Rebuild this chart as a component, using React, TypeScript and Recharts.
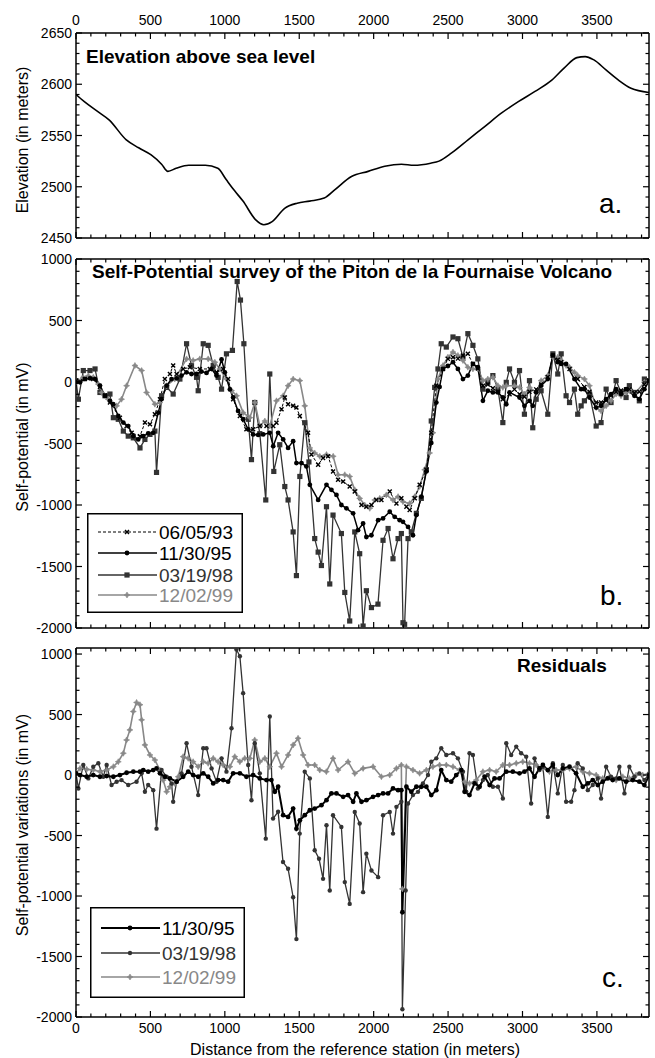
import React from 'react';
import { LineChart, Line, XAxis, YAxis, Legend } from 'recharts';

const FONT = '"Liberation Sans", Arial, Helvetica, sans-serif';

// ---------- Panel a: elevation ----------
const ELEV_DIST = [0,56,140,224,336,421,505,575,617,673,757,869,953,1009,1066,1122,1206,1262,1318,1402,1486,1570,1668,1738,1851,1963,2075,2187,2271,2383,2439,2524,2636,2748,2860,2972,3084,3197,3281,3365,3421,3477,3561,3645,3729,3850];
const ELEV_M = [2590,2583,2574,2565,2546,2538,2531,2522,2515,2518,2521,2521,2518,2507,2496,2486,2468,2463,2466,2479,2484,2486,2489,2497,2510,2515,2520,2522,2521,2523,2525,2533,2546,2559,2572,2583,2593,2604,2616,2626,2627,2624,2614,2604,2596,2592];

// ---------- Panel b: self-potential ----------
const SP93_DIST = [0,60,116,161,195,228,295,340,374,430,463,497,530,564,597,631,653,676,720,765,832,899,944,989,1022,1056,1101,1145,1190,1235,1280,1325,1347,1381,1403,1425,1459,1481,1504,1559,1582,1627,1660,1694,1727,1761,1795,1839,1873,1918,1951,1985,2018,2052,2108,2153,2186,2220,2242,2276,2309,2354,2387,2421,2466,2499,2533,2566,2600,2633,2667,2700,2734,2767,2801,2835,2868,2913,2946,2980,3013,3047,3092,3125,3170,3204,3237,3260,3316,3371,3416,3450,3495,3528,3562,3595,3629,3662,3696,3718,3752,3785,3819,3852];
const SP93_MV = [11,24,24,-40,-110,-167,-290,-358,-413,-440,-330,-344,-262,-140,24,65,134,65,106,120,106,106,79,106,24,-140,-276,-385,-385,-358,-358,-358,-331,-222,-126,-180,-194,-208,-276,-413,-590,-672,-618,-604,-727,-795,-809,-850,-891,-1000,-1014,-1000,-959,-959,-891,-987,-946,-1014,-1041,-946,-836,-713,-413,-30,106,188,202,190,216,229,147,110,-30,-20,-50,-80,-140,-100,-60,-100,-120,-80,-60,-20,40,216,180,160,106,24,-40,-80,-167,-167,-150,-110,-80,-70,-60,-60,-90,-80,-20,11];

const SP95_DIST = [0,27,60,94,128,161,195,228,250,284,318,351,385,418,452,485,519,553,575,609,642,676,709,743,776,810,843,877,911,944,978,1000,1034,1056,1089,1123,1157,1190,1224,1258,1302,1325,1358,1392,1425,1459,1481,1515,1548,1571,1627,1683,1716,1750,1783,1817,1862,1895,1929,1951,1985,2030,2063,2108,2141,2175,2197,2231,2264,2287,2320,2354,2387,2421,2443,2466,2499,2533,2566,2600,2633,2667,2700,2734,2767,2801,2835,2868,2891,2913,2980,3013,3047,3069,3092,3125,3170,3204,3237,3260,3293,3349,3394,3416,3450,3495,3528,3562,3595,3629,3662,3696,3752,3785,3819,3852];
const SP95_MV = [-3,-3,24,30,24,-30,-112,-153,-181,-276,-330,-358,-440,-467,-440,-418,-413,-249,-140,-30,24,30,52,79,65,65,85,74,106,52,183,79,-60,-126,-235,-303,-385,-426,-430,-426,-413,-522,-413,-467,-536,-481,-659,-659,-686,-836,-959,-836,-877,-918,-1000,-1027,-1068,-1205,-1150,-1260,-1246,-1123,-1109,-1055,-1096,-1123,-1137,-1178,-1246,-1082,-932,-727,-495,-167,-40,106,130,161,106,24,52,147,120,-153,-71,-85,-85,-126,-181,-85,-126,-194,-153,-194,-85,-30,24,216,161,147,147,24,-58,-58,-126,-208,-194,-140,-98,-58,-98,-58,-112,-140,-58,11];

const SP98_DIST = [0,16,49,94,128,161,195,228,251,284,318,351,385,430,463,497,530,541,575,609,653,698,743,776,810,821,855,888,922,955,978,1011,1051,1083,1105,1128,1157,1179,1201,1235,1275,1302,1329,1369,1403,1425,1459,1481,1504,1537,1565,1604,1627,1649,1683,1705,1727,1783,1806,1839,1873,1906,1929,1951,1985,2029,2063,2097,2130,2164,2186,2197,2208,2231,2253,2287,2320,2354,2387,2410,2432,2454,2488,2533,2566,2600,2633,2667,2700,2734,2767,2801,2835,2868,2891,2913,2946,2980,3013,3047,3069,3092,3125,3170,3204,3237,3260,3293,3316,3349,3371,3394,3416,3450,3495,3528,3562,3595,3629,3662,3696,3718,3752,3785,3819,3852];
const SP98_MV = [11,-140,93,93,106,-85,-112,-98,-290,-303,-399,-440,-454,-536,-467,-426,-399,-735,-112,-44,-98,24,311,134,38,-71,311,298,134,38,-58,229,257,817,666,311,-303,-631,-167,-420,-959,65,-727,-510,-850,-959,-1219,-1574,-768,-331,-650,-1273,-1383,-1492,-1014,-1642,-1082,-1232,-1711,-1943,-1219,-1396,-1984,-1697,-1834,-1806,-1287,-1191,-1437,-1273,-1232,-1957,-1970,-1273,-1219,-1068,-946,-713,-317,-44,106,311,284,366,352,202,393,298,188,-58,-3,52,-58,-330,-3,106,-3,93,-262,11,-372,-140,-71,-262,229,65,229,-112,-167,-58,-262,-194,-153,-98,-358,-330,-58,-167,11,-85,-126,-30,-85,-153,24,11];

const SP99_DIST = [0,49,83,116,150,172,217,273,306,340,396,441,474,530,564,609,664,743,787,832,888,933,966,1011,1045,1079,1123,1168,1202,1235,1269,1302,1347,1392,1425,1459,1504,1537,1571,1604,1638,1683,1728,1761,1806,1839,1873,1906,1940,1974,2007,2041,2085,2130,2164,2197,2242,2276,2309,2343,2376,2398,2432,2466,2499,2533,2566,2600,2633,2667,2700,2734,2767,2801,2835,2868,2891,2946,2980,3013,3047,3092,3125,3170,3204,3237,3260,3293,3316,3349,3371,3416,3450,3495,3528,3562,3595,3629,3662,3696,3718,3752,3819,3852];
const SP99_MV = [0,38,50,38,-17,-85,-140,-194,-140,-30,134,93,-85,-180,-167,-30,24,188,175,188,188,161,106,24,-70,-112,-249,-290,-167,-358,-317,-358,-153,-112,-30,24,11,-194,-536,-577,-604,-590,-604,-754,-754,-768,-877,-946,-1000,-1027,-959,-946,-918,-959,-932,-973,-987,-932,-850,-713,-577,-413,24,134,202,243,216,175,120,106,106,11,24,38,-30,-44,-30,-30,-44,-98,-44,-85,11,52,202,202,175,134,120,79,52,24,-30,-208,-235,-194,-153,-98,-112,-85,-71,-98,-3,11];

// ---------- Panel c: residuals ----------
const RES95_DIST = [0,27,72,116,161,206,251,295,340,385,430,452,485,519,541,564,597,631,676,720,754,787,821,855,888,922,955,989,1022,1056,1101,1145,1190,1235,1280,1313,1336,1358,1392,1425,1459,1481,1504,1537,1571,1604,1649,1683,1716,1750,1795,1828,1862,1884,1918,1951,1996,2030,2063,2097,2130,2164,2186,2193,2220,2253,2287,2320,2354,2387,2421,2454,2488,2521,2555,2589,2611,2644,2678,2712,2745,2779,2812,2846,2891,2935,2980,3013,3047,3081,3114,3137,3170,3204,3237,3271,3316,3360,3405,3439,3472,3506,3539,3573,3606,3651,3696,3741,3785,3819,3852];
const RES95_MV = [14,0,-14,0,-14,-8,-14,0,19,28,28,41,28,41,55,14,-14,-28,-55,-14,28,0,-14,14,-14,-69,-42,-42,-55,14,14,-14,0,-28,-42,-42,-138,-97,-332,-346,-277,-443,-374,-332,-291,-277,-249,-208,-152,-152,-180,-166,-221,-152,-221,-208,-180,-166,-152,-152,-111,-125,-125,-1134,-97,-138,-97,-97,-97,-166,-125,41,-42,-55,0,41,-138,-166,-69,-97,-14,-83,-28,-28,28,28,14,28,55,-14,55,83,41,83,0,55,69,14,-97,-69,-42,-83,-55,-28,-42,-28,-55,-42,-55,-83,0];

const RES98_DIST = [0,16,49,83,116,150,183,206,239,273,306,351,407,441,463,485,519,541,575,609,642,653,676,709,743,776,821,855,877,911,944,978,1011,1045,1078,1101,1123,1157,1179,1201,1235,1275,1302,1324,1358,1391,1425,1459,1481,1503,1537,1571,1604,1633,1660,1683,1705,1727,1783,1806,1839,1873,1906,1929,1951,1985,2030,2063,2108,2130,2153,2186,2193,2215,2231,2264,2298,2331,2365,2387,2421,2454,2488,2533,2566,2600,2622,2644,2667,2700,2734,2767,2801,2835,2868,2891,2924,2958,2991,3025,3058,3081,3114,3137,3170,3204,3237,3271,3293,3327,3349,3371,3405,3439,3472,3506,3528,3562,3595,3629,3651,3685,3718,3752,3785,3819,3852];
const RES98_MV = [14,-111,83,-28,69,97,-14,83,-83,-55,-42,-83,-55,14,-138,-83,-125,-443,41,-14,-69,-221,-55,14,263,69,-166,221,221,55,-55,138,28,387,1037,982,677,83,-208,263,14,-526,484,-360,-304,-719,-775,-1010,-1356,-484,28,-28,-622,-692,-858,-415,-955,-332,-429,-885,-1065,-305,-401,-968,-650,-789,-844,-332,-305,-484,-263,-221,-1936,-955,-235,-166,-139,-69,0,110,138,221,166,180,138,28,-138,180,166,-111,-42,0,-97,-97,-194,263,166,235,180,152,-235,138,41,69,-346,97,-152,83,-221,-221,-125,97,55,-125,-83,-28,-194,69,-14,-28,69,-152,69,-14,14,-42,14];

const RES99_DIST = [0,27,72,116,161,206,251,284,318,340,362,385,407,430,441,463,497,530,564,586,609,631,664,687,720,754,787,821,855,888,922,955,989,1034,1067,1101,1134,1168,1201,1235,1269,1302,1347,1381,1425,1459,1492,1526,1559,1604,1638,1682,1727,1761,1828,1873,1929,1996,2052,2108,2153,2186,2193,2220,2264,2309,2354,2398,2443,2488,2533,2577,2611,2644,2689,2734,2779,2823,2868,2913,2958,3002,3047,3092,3137,3181,3226,3271,3316,3360,3405,3450,3495,3539,3584,3629,3674,3718,3763,3808,3852];
const RES99_MV = [14,55,47,41,28,41,69,110,180,290,373,525,600,581,456,249,166,124,41,-42,-138,-97,-69,-14,152,138,110,69,110,97,138,110,83,69,152,110,138,138,290,110,138,69,180,69,166,249,304,166,83,83,41,28,138,41,110,13,55,69,-14,0,55,83,-941,69,41,14,41,69,83,83,69,41,-55,-69,-42,28,41,28,83,83,97,110,97,83,55,28,41,41,55,69,28,14,0,-28,-14,-42,-14,-28,0,0,14];

// ---------- Ticks & labels ----------
const X_DOMAIN = [0, 3850];
const X_TICKS = Array.from({ length: 39 }, (_, i) => i * 100);
const ELEV_TICKS = Array.from({ length: 21 }, (_, i) => 2450 + i * 10);
const SP_TICKS = Array.from({ length: 31 }, (_, i) => -2000 + i * 100);
const RES_TICKS = Array.from({ length: 31 }, (_, i) => -2000 + i * 100);
const SP_LEGEND = ['06/05/93', '11/30/95', '03/19/98', '12/02/99'];
const RES_LEGEND = ['11/30/95', '03/19/98', '12/02/99'];

const rows = (d: number[], v: number[]) => d.map((x, i) => ({ d: x, v: v[i] }));

// ---------- Markers ----------
type Kind = 'x' | 'circle' | 'square' | 'star' | 'none';
function Marker({ kind, cx, cy, color, size }: { kind: Kind; cx: number; cy: number; color: string; size: number }) {
  if (cx == null || cy == null || isNaN(cx) || isNaN(cy)) return null;
  const s = size;
  if (kind === 'x')
    return <path d={`M${cx - s},${cy - s}L${cx + s},${cy + s}M${cx - s},${cy + s}L${cx + s},${cy - s}`} stroke={color} strokeWidth={1.4} fill="none" />;
  if (kind === 'circle') return <circle cx={cx} cy={cy} r={s} fill={color} />;
  if (kind === 'square') return <rect x={cx - s} y={cy - s} width={2 * s} height={2 * s} fill={color} />;
  if (kind === 'star') {
    const a = s * 0.35;
    return (
      <path
        d={`M${cx},${cy - s}L${cx + a},${cy - a}L${cx + s},${cy}L${cx + a},${cy + a}L${cx},${cy + s}L${cx - a},${cy + a}L${cx - s},${cy}L${cx - a},${cy - a}Z`}
        fill={color}
        stroke={color}
        strokeWidth={0.6}
      />
    );
  }
  return null;
}
const dotFn = (kind: Kind, color: string, size: number) => (p: any) => (
  <Marker key={`m${p.index}`} kind={kind} cx={p.cx} cy={p.cy} color={color} size={size} />
);

// ---------- Ticks ----------
const xTick = (side: 'top' | 'bottom', labels: boolean) => (p: any) => {
  const v = p.payload.value;
  const major = v % 500 === 0;
  const len = major ? 6 : 3.5;
  const s = side === 'top' ? 1 : -1;
  return (
    <g key={`xt${side}${v}`}>
      <line x1={p.x} x2={p.x} y1={p.y} y2={p.y + s * len} stroke="#000" strokeWidth={1.2} />
      {labels && major ? (
        <text x={p.x} y={side === 'top' ? p.y - 8 : p.y + 16} textAnchor="middle" fontSize={14} fontFamily={FONT} fill="#000">
          {v}
        </text>
      ) : null}
    </g>
  );
};
const yTick = (side: 'left' | 'right', majorStep: number, labels: boolean) => (p: any) => {
  const v = p.payload.value;
  const major = Math.abs(v % majorStep) < 1e-6;
  const len = major ? 6 : 3.5;
  const s = side === 'left' ? 1 : -1;
  return (
    <g key={`yt${side}${v}`}>
      <line x1={p.x} x2={p.x + s * len} y1={p.y} y2={p.y} stroke="#000" strokeWidth={1.2} />
      {labels && major ? (
        <text x={p.x - 4} y={p.y + 5} textAnchor="end" fontSize={14} fontFamily={FONT} fill="#000">
          {v}
        </text>
      ) : null}
    </g>
  );
};

const AXIS_LINE = { stroke: '#000', strokeWidth: 1.5 };

// ---------- Legend ----------
type LegItem = { name: string; color: string; text: string; kind: Kind; size: number; dash?: string; width: number };
function LegendBox({ items, w, h, rowY }: { items: LegItem[]; w: number; h: number; rowY: number[] }) {
  return (
    <svg width={w} height={h} style={{ display: 'block' }}>
      <rect x={0.75} y={0.75} width={w - 1.5} height={h - 1.5} fill="#fff" stroke="#000" strokeWidth={1.5} />
      {items.map((it, i) => (
        <g key={it.name}>
          <line x1={11} x2={70} y1={rowY[i]} y2={rowY[i]} stroke={it.color} strokeWidth={it.width} strokeDasharray={it.dash} />
          <Marker kind={it.kind} cx={40} cy={rowY[i]} color={it.color} size={it.size} />
          <text x={72} y={rowY[i] + 7} fontSize={19} fontFamily={FONT} fill={it.text}>
            {it.name}
          </text>
        </g>
      ))}
    </svg>
  );
}

const SP_ITEMS: LegItem[] = [
  { name: SP_LEGEND[0], color: '#000', text: '#000', kind: 'x', size: 2, dash: '3 2', width: 1.2 },
  { name: SP_LEGEND[1], color: '#000', text: '#000', kind: 'circle', size: 2.4, width: 1.6 },
  { name: SP_LEGEND[2], color: '#333', text: '#333', kind: 'square', size: 2.6, width: 1.4 },
  { name: SP_LEGEND[3], color: '#888', text: '#888', kind: 'star', size: 3, width: 1.6 },
];
const RES_ITEMS: LegItem[] = [
  { name: RES_LEGEND[0], color: '#000', text: '#000', kind: 'circle', size: 2.4, width: 2 },
  { name: RES_LEGEND[1], color: '#333', text: '#333', kind: 'circle', size: 2.2, width: 1.4 },
  { name: RES_LEGEND[2], color: '#888', text: '#888', kind: 'star', size: 3, width: 1.6 },
];

// axes use 1px thickness (0 would not render); margins are reduced by 1 accordingly
function frame(yDomain: number[], yTicks: number[], majorStep: number, topLabels: boolean, bottomLabels: boolean) {
  return [
    <XAxis key="xb" xAxisId="b" orientation="bottom" dataKey="d" type="number" domain={X_DOMAIN} allowDataOverflow ticks={X_TICKS} interval={0} height={1} tickSize={0} tickMargin={0} tickLine={false} axisLine={AXIS_LINE} tick={xTick('bottom', bottomLabels)} />,
    <XAxis key="xt" xAxisId="t" orientation="top" dataKey="d" type="number" domain={X_DOMAIN} allowDataOverflow ticks={X_TICKS} interval={0} height={1} tickSize={0} tickMargin={0} tickLine={false} axisLine={AXIS_LINE} tick={xTick('top', topLabels)} />,
    <YAxis key="yl" yAxisId="l" orientation="left" type="number" domain={yDomain} allowDataOverflow ticks={yTicks} interval={0} width={1} tickSize={0} tickMargin={0} tickLine={false} axisLine={AXIS_LINE} tick={yTick('left', majorStep, true)} />,
    <YAxis key="yr" yAxisId="r" orientation="right" type="number" domain={yDomain} allowDataOverflow ticks={yTicks} interval={0} width={1} tickSize={0} tickMargin={0} tickLine={false} axisLine={AXIS_LINE} tick={yTick('right', majorStep, false)} />,
  ];
}

export default function App() {
  const elev = rows(ELEV_DIST, ELEV_M);
  const sp93 = rows(SP93_DIST, SP93_MV);
  const sp95 = rows(SP95_DIST, SP95_MV);
  const sp98 = rows(SP98_DIST, SP98_MV);
  const sp99 = rows(SP99_DIST, SP99_MV);
  const r95 = rows(RES95_DIST, RES95_MV);
  const r98 = rows(RES98_DIST, RES98_MV);
  const r99 = rows(RES99_DIST, RES99_MV);

  return (
    <div style={{ position: 'absolute', left: 0, top: 0, width: 655, height: 1058, background: '#fff', fontFamily: FONT }}>
      {/* Panel a */}
      <div style={{ position: 'absolute', left: 0, top: 0 }}>
        <LineChart width={655} height={250} margin={{ top: 32, right: 5, bottom: 11, left: 75 }}>
          {frame([2450, 2650], ELEV_TICKS, 50, true, false)}
          <Line xAxisId="b" yAxisId="l" data={elev} dataKey="v" type="monotone" stroke="#000" strokeWidth={1.6} dot={false} activeDot={false} isAnimationActive={false} />
        </LineChart>
      </div>

      {/* Panel b */}
      <div style={{ position: 'absolute', left: 0, top: 250 }}>
        <LineChart width={655} height={390} margin={{ top: 8, right: 5, bottom: 11, left: 75 }}>
          {frame([-2000, 1000], SP_TICKS, 500, false, false)}
          <Line xAxisId="b" yAxisId="l" data={sp98} dataKey="v" type="linear" stroke="#333" strokeWidth={1.3} dot={dotFn('square', '#333', 2.6)} activeDot={false} isAnimationActive={false} />
          <Line xAxisId="b" yAxisId="l" data={sp99} dataKey="v" type="linear" stroke="#888" strokeWidth={1.6} dot={dotFn('star', '#888', 3)} activeDot={false} isAnimationActive={false} />
          <Line xAxisId="b" yAxisId="l" data={sp93} dataKey="v" type="linear" stroke="#000" strokeWidth={1} strokeDasharray="3 2" dot={dotFn('x', '#000', 2)} activeDot={false} isAnimationActive={false} />
          <Line xAxisId="b" yAxisId="l" data={sp95} dataKey="v" type="linear" stroke="#000" strokeWidth={1.5} dot={dotFn('circle', '#000', 2.4)} activeDot={false} isAnimationActive={false} />
          <Legend layout="vertical" align="center" verticalAlign="middle" wrapperStyle={{ left: 87, top: 263, width: 156, height: 100 }} content={() => <LegendBox items={SP_ITEMS} w={156} h={100} rowY={[19, 40, 62, 82]} />} />
        </LineChart>
      </div>

      {/* Panel c */}
      <div style={{ position: 'absolute', left: 0, top: 640 }}>
        <LineChart width={655} height={418} margin={{ top: 7, right: 5, bottom: 40, left: 75 }}>
          {frame([-2000, 1050], RES_TICKS, 500, false, true)}
          <Line xAxisId="b" yAxisId="l" data={r99} dataKey="v" type="linear" stroke="#888" strokeWidth={1.6} dot={dotFn('star', '#888', 3)} activeDot={false} isAnimationActive={false} />
          <Line xAxisId="b" yAxisId="l" data={r98} dataKey="v" type="linear" stroke="#333" strokeWidth={1.3} dot={dotFn('circle', '#333', 2.2)} activeDot={false} isAnimationActive={false} />
          <Line xAxisId="b" yAxisId="l" data={r95} dataKey="v" type="linear" stroke="#000" strokeWidth={2} dot={dotFn('circle', '#000', 2.4)} activeDot={false} isAnimationActive={false} />
          <Legend layout="vertical" align="center" verticalAlign="middle" wrapperStyle={{ left: 90, top: 267, width: 155, height: 91 }} content={() => <LegendBox items={RES_ITEMS} w={155} h={91} rowY={[21, 46, 70]} />} />
        </LineChart>
      </div>

      {/* Titles and axis labels */}
      <svg width={655} height={1058} style={{ position: 'absolute', left: 0, top: 0, pointerEvents: 'none' }}>
        <g fontFamily={FONT} fill="#000">
          <text x={86} y={63} fontSize={19} fontWeight="bold">Elevation above sea level</text>
          <text x={92} y={278} fontSize={19} fontWeight="bold">Self-Potential survey of the Piton de la Fournaise Volcano</text>
          <text x={517} y={672} fontSize={19} fontWeight="bold">Residuals</text>
          <text x={599} y={213} fontSize={28}>a.</text>
          <text x={600} y={605} fontSize={28}>b.</text>
          <text x={602} y={987} fontSize={28}>c.</text>
          <text transform="translate(28,140) rotate(-90)" textAnchor="middle" fontSize={16}>Elevation (in meters)</text>
          <text transform="translate(28,437) rotate(-90)" textAnchor="middle" fontSize={16}>Self-potential (in mV)</text>
          <text transform="translate(28,825) rotate(-90)" textAnchor="middle" fontSize={16}>Self-potential variations (in mV)</text>
          <text x={355} y={1055} textAnchor="middle" fontSize={16}>Distance from the reference station (in meters)</text>
        </g>
      </svg>
    </div>
  );
}
